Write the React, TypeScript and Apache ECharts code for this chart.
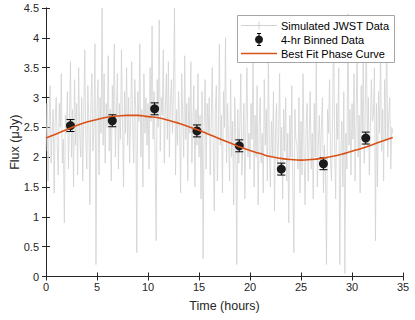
import React, { useEffect, useRef } from "react";
import * as echarts from "echarts";

// Simulated JWST data: one value every 0.1 h from 0 to 34 h (read/estimated from the picture)
const rawFlux: number[] = [
  2.1, 2.9, 1.6, 2.5, 3.2, 1.9, 2.4, 2.8, 1.4, 2.6,
  3.0, 2.2, 1.7, 2.9, 2.5, 3.4, 1.9, 2.3, 0.9, 2.7,
  2.4, 3.1, 1.8, 2.6, 3.6, 2.0, 2.8, 1.5, 3.3, 2.2,
  2.9, 1.7, 3.5, 2.4, 2.0, 3.0, 1.6, 2.7, 3.8, 2.3,
  1.8, 3.2, 2.6, 1.2, 2.9, 3.4, 2.1, 2.5, 3.9, 0.2,
  2.8, 3.3, 1.7, 3.0, 2.4, 4.5, 2.2, 3.4, 1.9, 2.9,
  2.5, 3.7, 2.1, 2.8, 1.6, 3.2, 2.6, 3.9, 2.0, 2.7,
  3.4, 1.8, 2.9, 2.3, 3.8, 2.6, 1.5, 3.1, 2.4, 3.5,
  2.2, 3.0, 1.9, 2.7, 3.6, 2.5, 1.9, 3.3, 2.8, 0.4,
  3.1, 2.6, 3.9, 2.0, 2.8, 1.5, 3.4, 2.4, 3.0, 2.2,
  2.9, 1.8, 3.5, 2.6, 4.2, 2.3, 3.1, 2.0, 0.6, 3.3,
  2.5, 4.3, 2.1, 3.0, 2.7, 3.8, 1.9, 2.8, 3.4, 2.3,
  3.6, 2.0, 2.9, 3.3, 2.4, 3.2, 4.5, 1.7, 2.8, 2.2,
  3.1, 2.5, 1.4, 3.4, 2.7, 2.0, 3.7, 2.3, 2.9, 1.6,
  3.0, 2.4, 3.6, 1.9, 2.6, 3.2, 1.5, 2.8, 2.2, 3.4,
  2.0, 2.7, 1.3, 3.1, 0.3, 2.5, 3.3, 1.8, 2.9, 2.4,
  3.0, 1.7, 2.6, 3.5, 2.1, 1.1, 2.8, 3.2, 1.6, 2.4,
  3.9, 2.2, 2.7, 1.4, 3.1, 2.5, 4.0, 1.9, 2.9, 2.3,
  1.6, 3.3, 2.0, 2.6, 1.2, 3.0, 2.4, 0.2, 2.8, 1.9,
  2.5, 3.4, 1.7, 2.2, 2.9, 1.3, 2.6, 3.5, 2.0, 2.4,
  1.8, 2.9, 2.3, 3.6, 1.5, 2.7, 2.0, 3.2, 1.2, 2.5,
  3.0, 1.9, 2.4, 1.4, 3.3, 2.2, 2.8, 1.6, 3.7, 2.1,
  1.5, 2.6, 2.0, 3.1, 1.1, 2.4, 2.9, 1.7, 2.3, 3.4,
  1.9, 2.5, 1.3, 2.8, 2.1, 3.0, 1.6, 2.4, 0.9, 2.7,
  2.0, 3.2, 1.5, 0.4, 2.8, 2.3, 2.2, 1.8, 3.0, 1.4,
  2.6, 1.7, 3.4, 2.1, 1.2, 2.5, 2.9, 1.6, 2.3, 3.1,
  1.8, 2.4, 1.3, 2.9, 2.0, 3.6, 1.5, 2.2, 2.7, 1.9,
  2.5, 3.0, 1.4, 2.2, 1.7, 0.2, 2.8, 2.4, 3.3, 1.9,
  1.6, 2.7, 4.3, 2.1, 1.3, 2.9, 2.3, 3.5, 0.2, 2.0,
  2.6, 1.5, 3.1, 0.05, 2.4, 1.8, 4.4, 2.2, 2.8, 1.7,
  2.9, 2.3, 3.4, 1.6, 2.6, 3.8, 2.0, 2.7, 1.4, 3.2,
  2.4, 3.6, 1.9, 2.8, 4.1, 2.2, 3.0, 1.7, 2.5, 3.3,
  2.6, 2.7, 3.5, 0.6, 2.9, 1.5, 3.1, 2.4, 3.8, 2.1,
  2.8, 1.6, 3.3, 2.3, 4.3, 2.0, 2.7, 3.0, 1.8, 2.5,
  2.4,
];
const rawStep = 0.1;

// 4-hr binned data
const binTimes: number[] = [2.4, 6.5, 10.65, 14.8, 18.95, 23.07, 27.2, 31.35];
const binFlux: number[] = [2.53, 2.61, 2.81, 2.44, 2.19, 1.8, 1.89, 2.32];
const binErr: number[] = [0.1, 0.1, 0.1, 0.1, 0.1, 0.1, 0.1, 0.1];

// Best fit phase curve, sampled every hour
const fitTimes: number[] = [
  0, 1, 2, 3, 4, 5, 6, 7, 8, 9, 10, 11, 12, 13, 14, 15, 16, 17, 18, 19, 20,
  21, 22, 23, 24, 25, 26, 27, 28, 29, 30, 31, 32, 33, 34,
];
const fitFlux: number[] = [
  2.32, 2.39, 2.46, 2.53, 2.59, 2.63, 2.67, 2.69, 2.7, 2.7, 2.68, 2.66, 2.62,
  2.57, 2.51, 2.45, 2.38, 2.31, 2.24, 2.17, 2.11, 2.06, 2.01, 1.98, 1.96,
  1.95, 1.96, 1.98, 2.01, 2.05, 2.1, 2.15, 2.21, 2.27, 2.33,
];

const legendNames: string[] = ["Simulated JWST Data", "4-hr Binned Data", "Best Fit Phase Curve"];

const xTicks = { min: 0, max: 35, interval: 5 };
const yTicks = { min: 0, max: 4.5, interval: 0.5 };

const FONT = "'Liberation Sans', Arial, Helvetica, sans-serif";
const AXIS_COLOR = "#262626";
const RAW_COLOR = "#d2d2d2";
const FIT_COLOR = "#D95319";
const BIN_COLOR = "#1a1a1a";

export default function App() {
  const ref = useRef<HTMLDivElement>(null);

  useEffect(() => {
    if (!ref.current) return;
    const chart = echarts.init(ref.current, undefined, { renderer: "svg" });

    const rawData = rawFlux.map((v, i) => [+(i * rawStep).toFixed(2), v]);
    const binData = binTimes.map((t, i) => [t, binFlux[i]]);
    const errData = binTimes.map((t, i) => [t, binFlux[i], binErr[i]]);
    const fitData = fitTimes.map((t, i) => [t, fitFlux[i]]);

    const axisLine = { show: true, lineStyle: { color: AXIS_COLOR, width: 1 } };
    const axisTick = { show: true, inside: true, length: 4, lineStyle: { color: AXIS_COLOR } };
    const label = { color: AXIS_COLOR, fontSize: 11, fontFamily: FONT };

    // legend drawn with graphic elements
    const lx = 237;
    const ly = 15;
    const lw = 157;
    const lh = 47;
    const rowY = [ly + 10.5, ly + 24.5, ly + 38.5];
    const iconX1 = lx + 4;
    const iconX2 = lx + 40;
    const iconMid = (iconX1 + iconX2) / 2;
    const textX = lx + 44;
    const legendGraphic: any[] = [
      {
        type: "rect",
        shape: { x: lx + 0.5, y: ly + 0.5, width: lw, height: lh },
        style: { fill: "#ffffff", stroke: "#a6a6a6", lineWidth: 1 },
        z: 100,
      },
      {
        type: "line",
        shape: { x1: iconX1, y1: rowY[0], x2: iconX2, y2: rowY[0] },
        style: { stroke: RAW_COLOR, lineWidth: 1 },
        z: 101,
      },
      {
        type: "line",
        shape: { x1: iconMid, y1: rowY[0] - 4, x2: iconMid, y2: rowY[0] + 4 },
        style: { stroke: RAW_COLOR, lineWidth: 1 },
        z: 101,
      },
      {
        type: "line",
        shape: { x1: iconMid, y1: rowY[1] - 6, x2: iconMid, y2: rowY[1] + 6 },
        style: { stroke: "#000", lineWidth: 1 },
        z: 101,
      },
      {
        type: "line",
        shape: { x1: iconMid - 2, y1: rowY[1] - 6, x2: iconMid + 2, y2: rowY[1] - 6 },
        style: { stroke: "#000", lineWidth: 1 },
        z: 101,
      },
      {
        type: "line",
        shape: { x1: iconMid - 2, y1: rowY[1] + 6, x2: iconMid + 2, y2: rowY[1] + 6 },
        style: { stroke: "#000", lineWidth: 1 },
        z: 101,
      },
      {
        type: "circle",
        shape: { cx: iconMid, cy: rowY[1], r: 4 },
        style: { fill: BIN_COLOR },
        z: 102,
      },
      {
        type: "line",
        shape: { x1: iconX1, y1: rowY[2], x2: iconX2, y2: rowY[2] },
        style: { stroke: FIT_COLOR, lineWidth: 1.6 },
        z: 101,
      },
      ...legendNames.map((n, i) => ({
        type: "text",
        x: textX,
        y: rowY[i],
        style: {
          text: n,
          fill: "#000",
          fontSize: 11,
          fontFamily: FONT,
          verticalAlign: "middle",
          align: "left",
        },
        z: 103,
      })),
    ];

    chart.setOption({
      animation: false,
      backgroundColor: "#ffffff",
      textStyle: { fontFamily: FONT },
      grid: {
        left: 46,
        right: 12,
        top: 8,
        bottom: 43.5,
        containLabel: false,
        outerBoundsMode: "none",
      },
      graphic: legendGraphic,
      xAxis: [
        {
          type: "value",
          ...xTicks,
          position: "bottom",
          name: "Time (hours)",
          nameLocation: "middle",
          nameGap: 23,
          nameMoveOverlap: false,
          nameTextStyle: { color: AXIS_COLOR, fontSize: 12.5, fontFamily: FONT },
          axisLine,
          axisTick,
          axisLabel: { ...label, margin: 5 },
          splitLine: { show: false },
        },
        {
          type: "value",
          ...xTicks,
          position: "top",
          axisLine,
          axisTick,
          axisLabel: { show: false },
          splitLine: { show: false },
        },
      ],
      yAxis: [
        {
          type: "value",
          ...yTicks,
          position: "left",
          name: "Flux (\u03bcJy)",
          nameLocation: "middle",
          nameGap: 25,
          nameMoveOverlap: false,
          nameTextStyle: { color: AXIS_COLOR, fontSize: 12.5, fontFamily: FONT },
          axisLine,
          axisTick,
          axisLabel: { ...label, margin: 7 },
          splitLine: { show: false },
        },
        {
          type: "value",
          ...yTicks,
          position: "right",
          axisLine,
          axisTick,
          axisLabel: { show: false },
          splitLine: { show: false },
        },
      ],
      series: [
        {
          name: "Simulated JWST Data",
          type: "line",
          data: rawData,
          showSymbol: false,
          symbol: "none",
          lineStyle: { color: RAW_COLOR, width: 0.8 },
          itemStyle: { color: RAW_COLOR },
          z: 1,
        },
        {
          name: "errbars",
          type: "custom",
          data: errData,
          z: 3,
          renderItem: (params: any, api: any) => {
            const x = api.value(0);
            const y = api.value(1);
            const e = api.value(2);
            const top = api.coord([x, y + e]);
            const bot = api.coord([x, y - e]);
            const cw = 4;
            const style = { stroke: "#000", lineWidth: 1 };
            return {
              type: "group",
              children: [
                { type: "line", shape: { x1: top[0], y1: top[1], x2: bot[0], y2: bot[1] }, style },
                { type: "line", shape: { x1: top[0] - cw, y1: top[1], x2: top[0] + cw, y2: top[1] }, style },
                { type: "line", shape: { x1: bot[0] - cw, y1: bot[1], x2: bot[0] + cw, y2: bot[1] }, style },
              ],
            };
          },
        },
        {
          name: "4-hr Binned Data",
          type: "scatter",
          data: binData,
          symbol: "circle",
          symbolSize: 9,
          itemStyle: { color: BIN_COLOR, opacity: 1 },
          z: 4,
        },
        {
          name: "Best Fit Phase Curve",
          type: "line",
          data: fitData,
          smooth: true,
          showSymbol: false,
          symbol: "none",
          lineStyle: { color: FIT_COLOR, width: 1.6 },
          itemStyle: { color: FIT_COLOR },
          z: 5,
        },
      ],
    });

    return () => chart.dispose();
  }, []);

  return (
    <div
      ref={ref}
      style={{ position: "fixed", left: 0, top: 0, width: 415, height: 320 }}
    />
  );
}
